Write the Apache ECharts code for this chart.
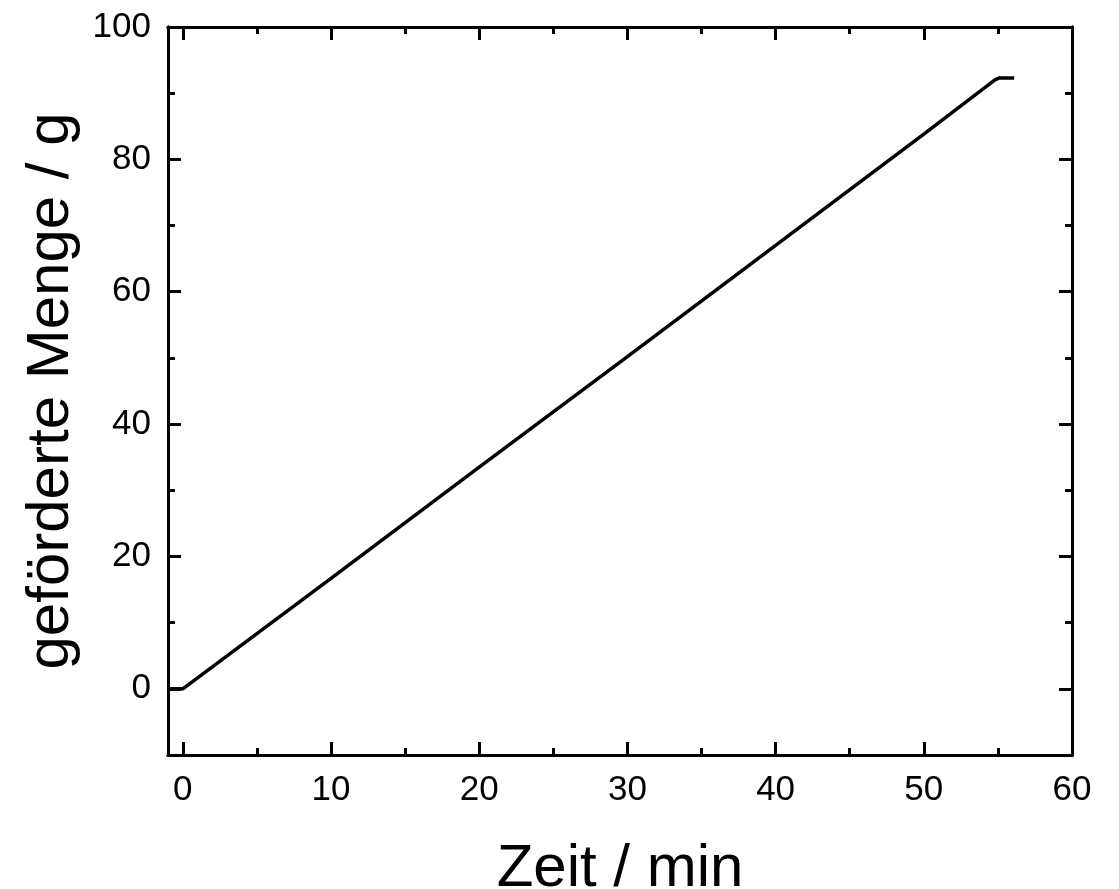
<!DOCTYPE html>
<html>
<head>
<meta charset="utf-8">
<script src="https://cdn.jsdelivr.net/npm/echarts@6/dist/echarts.min.js"></script>
<style>
  html, body { margin: 0; padding: 0; background: #fff; }
  #main { width: 1119px; height: 889px; }
</style>
</head>
<body>
<div id="main"></div>
<script>
var zeit = [-1, 0, 10, 20, 30, 40, 50, 54.8, 55.1, 56.1];
var menge = [0, 0, 16.7, 33.5, 50.2, 67.0, 83.8, 92.0, 92.3, 92.3];

var xMajor = [0, 10, 20, 30, 40, 50, 60];
var xMinor = [5, 15, 25, 35, 45, 55];
var yMajor = [0, 20, 40, 60, 80, 100];
var yMinor = [-10, 10, 30, 50, 70, 90];

var font = "Liberation Sans, Arial, sans-serif";

function xAx(pos, ticks, len, labels) {
  return {
    type: "value", position: pos, min: -1, max: 60,
    axisLine: { show: true, onZero: false, lineStyle: { color: "#000", width: 3 } },
    axisTick: { show: true, inside: true, length: len, customValues: ticks, lineStyle: { color: "#000", width: 3 } },
    axisLabel: labels ? { show: true, customValues: ticks, margin: 18, color: "#000", fontSize: 35, fontFamily: font } : { show: false },
    splitLine: { show: false },
    minorTick: { show: false }
  };
}
function yAx(pos, ticks, len, labels) {
  return {
    type: "value", position: pos, min: -10, max: 100,
    axisLine: { show: true, onZero: false, lineStyle: { color: "#000", width: 3 } },
    axisTick: { show: true, inside: true, length: len, customValues: ticks, lineStyle: { color: "#000", width: 3 } },
    axisLabel: labels ? { show: true, customValues: ticks, margin: 17, color: "#000", fontSize: 35, fontFamily: font } : { show: false },
    splitLine: { show: false },
    minorTick: { show: false }
  };
}

var xMain = xAx("bottom", xMajor, 13, true);
xMain.name = "Zeit / min";
xMain.nameLocation = "middle";
xMain.nameGap = 84;
xMain.nameTextStyle = { color: "#000", fontSize: 60, fontFamily: font };

var yMain = yAx("left", yMajor, 13, true);
yMain.name = "geförderte Menge / g";
yMain.nameLocation = "middle";
yMain.nameGap = 80;
yMain.nameTextStyle = { color: "#000", fontSize: 60, fontFamily: font };

var chart = echarts.init(document.getElementById("main"));
chart.setOption({
  animation: false,
  backgroundColor: "#fff",
  grid: { left: 168, right: 47, top: 27, bottom: 134, containLabel: false, outerBoundsMode: "none" },
  xAxis: [
    xMain,
    xAx("bottom", xMinor, 7, false),
    xAx("top", xMajor, 13, false),
    xAx("top", xMinor, 7, false)
  ],
  yAxis: [
    yMain,
    yAx("left", yMinor, 7, false),
    yAx("right", yMajor, 13, false),
    yAx("right", yMinor, 7, false)
  ],
  series: [
    {
      type: "line",
      xAxisIndex: 0,
      yAxisIndex: 0,
      data: zeit.map(function (t, i) { return [t, menge[i]]; }),
      showSymbol: false,
      lineStyle: { color: "#000", width: 3.5 },
      clip: true
    }
  ]
});
</script>
</body>
</html>
